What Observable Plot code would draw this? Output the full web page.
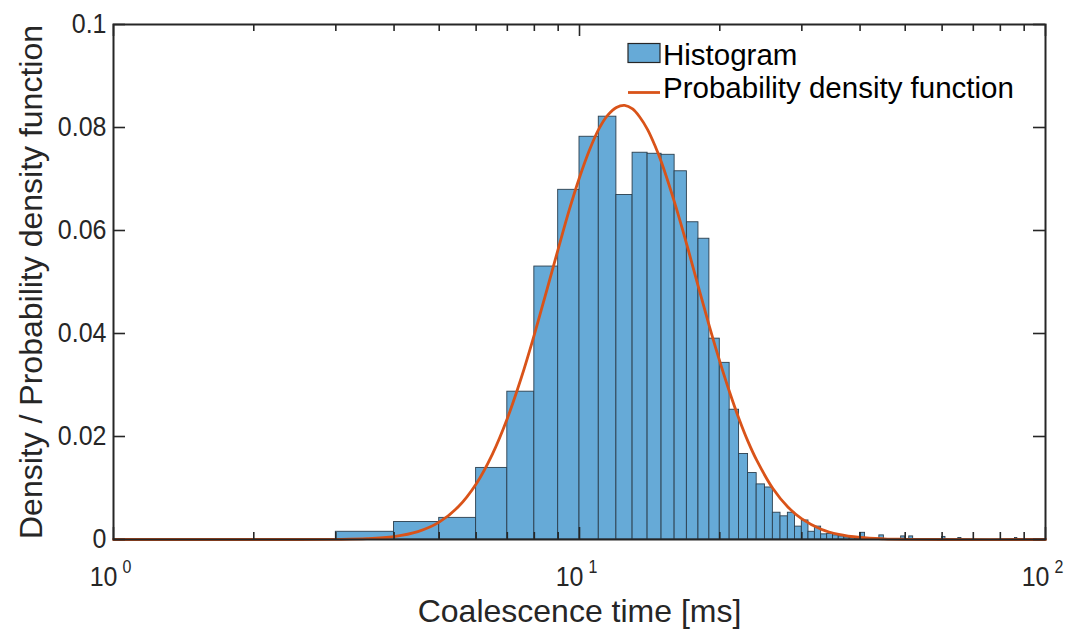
<!DOCTYPE html>
<html>
<head>
<meta charset="utf-8">
<script src="https://cdn.jsdelivr.net/npm/d3@7"></script>
<script src="https://cdn.jsdelivr.net/npm/@observablehq/plot@0.6"></script>
<style>
  html, body { margin: 0; padding: 0; background: #fff; }
  #wrap { position: relative; width: 1072px; height: 630px; font-family: "Liberation Sans", Arial, Helvetica, sans-serif; }
  #legend { position: absolute; left: 0; top: 0; pointer-events: none; }
</style>
</head>
<body>
<div id="wrap"></div>
<script>
// ---- data ----
// histogram bins (lower edge, upper edge, density), 1 ms wide bins
const binLo = [3,4,5,6,7,8,9,10,11,12,13,14,15,16,17,18,19,20,21,22,23,24,25,26,27,28,29,30,31,32,33,34,35,36,37,38,39,40,41,42,43,44,45,49,51,60,65,86];
const binHi = [4,5,6,7,8,9,10,11,12,13,14,15,16,17,18,19,20,21,22,23,24,25,26,27,28,29,30,31,32,33,34,35,36,37,38,39,40,41,42,43,44,45,46,50,52,61,66,87];
const binDensity = [0.0015,0.0034,0.0042,0.0139,0.0287,0.0530,0.0679,0.0782,0.0821,0.0669,0.0751,0.0749,0.0747,0.0715,0.0616,0.0584,0.0390,0.0343,0.0252,0.0166,0.0129,0.0107,0.0101,0.0052,0.0045,0.0052,0.0025,0.0037,0.0015,0.0025,0.0010,0.0011,0.0008,0.0006,0.0004,0.0003,0.0002,0.0013,0.0002,0.0001,0.0001,0.0008,0.0001,0.0006,0.0006,0.0005,0.0003,0.0003];

// probability density function curve
const pdfX = [1,2,2.5,3,3.5,4,4.5,5,5.5,6,6.5,7,7.5,8,8.5,9,9.5,10,10.5,11,11.5,12,12.5,13,13.5,14,14.5,15,16,17,18,19,20,21,22,23,24,26,28,30,33,36,40,45,50,60,100];
const pdfY = [0,0,0,0.00003,0.00016,0.00057,0.00153,0.00337,0.00639,0.01077,0.01654,0.0235,0.0314,0.0398,0.0483,0.0564,0.0639,0.0703,0.0756,0.0797,0.0824,0.0839,0.0843,0.0836,0.0819,0.0796,0.0766,0.0732,0.0654,0.0572,0.0490,0.0414,0.0346,0.0286,0.0234,0.0190,0.0154,0.0099,0.0063,0.0040,0.0020,0.0010,0.0004,0.00013,0.00004,0,0];

// axes
const xMajorTicks = [1, 10, 100];
const xTickBase = ["10", "10", "10"];
const xTickExp = ["0", "1", "2"];
const xMinorTicks = [2,3,4,5,6,7,8,9,20,30,40,50,60,70,80,90];
const yTicks = [0, 0.02, 0.04, 0.06, 0.08, 0.1];
const yTickLabels = ["0", "0.02", "0.04", "0.06", "0.08", "0.1"];
const xLabel = "Coalescence time [ms]";
const yLabel = "Density / Probability density function";
const legendLabels = ["Histogram", "Probability density function"];

// ---- build ----
const bins = binLo.map((lo, i) => ({lo, hi: binHi[i], d: binDensity[i]}));
const pdf = pdfX.map((x, i) => ({x, y: pdfY[i]}));

const W = 1072, H = 630;
const mL = 113, mR = 27, mT = 24, mB = 91;
const frameW = W - mL - mR, frameH = H - mT - mB;
const axisColor = "#262626";
const barFill = "#66AAD7";
const lineColor = "#D95319";
const font = "'Liberation Sans', Arial, Helvetica, sans-serif";

const majorLen = 12, minorLen = 7, yLen = 12;
const tickFont = 25;

const chart = Plot.plot({
  width: W, height: H,
  marginLeft: mL, marginRight: mR, marginTop: mT, marginBottom: mB,
  style: {fontFamily: font, background: "white", color: axisColor, overflow: "visible"},
  x: {type: "log", domain: [1, 100], axis: null},
  y: {domain: [0, 0.1], axis: null},
  marks: [
    Plot.rectY(bins, {x1: "lo", x2: "hi", y1: 0, y2: "d", fill: barFill, stroke: "#2b3f4e", strokeWidth: 0.9}),
    Plot.line(pdf, {x: "x", y: "y", stroke: lineColor, strokeWidth: 2.8, curve: "catmull-rom"}),
    // ticks (inward)
    Plot.tickX(xMajorTicks, {x: d => d, stroke: axisColor, strokeWidth: 1.6, insetTop: frameH - majorLen}),
    Plot.tickX(xMajorTicks, {x: d => d, stroke: axisColor, strokeWidth: 1.6, insetBottom: frameH - majorLen}),
    Plot.tickX(xMinorTicks, {x: d => d, stroke: axisColor, strokeWidth: 1.6, insetTop: frameH - minorLen}),
    Plot.tickX(xMinorTicks, {x: d => d, stroke: axisColor, strokeWidth: 1.6, insetBottom: frameH - minorLen}),
    Plot.tickY(yTicks, {y: d => d, stroke: axisColor, strokeWidth: 1.6, insetRight: frameW - yLen}),
    Plot.tickY(yTicks, {y: d => d, stroke: axisColor, strokeWidth: 1.6, insetLeft: frameW - yLen}),
    Plot.frame({stroke: axisColor, strokeWidth: 2}),
    // tick labels
    Plot.text(yTicks, {y: d => d, text: (d, i) => yTickLabels[i], frameAnchor: "left", textAnchor: "end", dx: -7, fontSize: tickFont, fill: axisColor, className: "ticklab"}),
    Plot.text(xMajorTicks, {x: d => d, text: (d, i) => xTickBase[i], frameAnchor: "bottom", textAnchor: "end", lineAnchor: "bottom", dx: 4, dy: 46, fontSize: tickFont, fill: axisColor, className: "ticklab"}),
    Plot.text(xMajorTicks, {x: d => d, text: (d, i) => xTickExp[i], frameAnchor: "bottom", textAnchor: "start", lineAnchor: "bottom", dx: 9, dy: 33, fontSize: 16, fill: axisColor, className: "ticklab"}),
    // axis labels
    Plot.text([xLabel], {text: d => d, frameAnchor: "bottom", textAnchor: "middle", lineAnchor: "bottom", dy: 82, fontSize: 32, fill: axisColor}),
    Plot.text([yLabel], {text: d => d, frameAnchor: "left", textAnchor: "middle", lineAnchor: "bottom", rotate: -90, dx: -72, fontSize: 32, fill: axisColor})
  ]
});

// tick labels in the reference are slightly taller than wide
chart.querySelectorAll("g.ticklab text").forEach(t => {
  const tr = t.getAttribute("transform") || "";
  t.setAttribute("transform", tr + " scale(1,1.1)");
});

const wrap = document.getElementById("wrap");
wrap.appendChild(chart);

// legend (inside the axes, top right, no box)
const ns = "http://www.w3.org/2000/svg";
const leg = document.createElementNS(ns, "svg");
leg.setAttribute("id", "legend");
leg.setAttribute("width", W);
leg.setAttribute("height", H);
function el(tag, attrs, text) {
  const e = document.createElementNS(ns, tag);
  for (const k in attrs) e.setAttribute(k, attrs[k]);
  if (text != null) e.textContent = text;
  leg.appendChild(e);
  return e;
}
el("rect", {x: 628, y: 43.5, width: 32, height: 19, fill: barFill, stroke: axisColor, "stroke-width": 1.2});
el("text", {x: 663, y: 64.5, "font-size": 29.5, "font-family": font, fill: "#000"}, legendLabels[0]);
el("line", {x1: 628, x2: 660, y1: 92.5, y2: 92.5, stroke: lineColor, "stroke-width": 2.8});
el("text", {x: 663, y: 97.5, "font-size": 29.5, "font-family": font, fill: "#000"}, legendLabels[1]);
wrap.appendChild(leg);
</script>
</body>
</html>
